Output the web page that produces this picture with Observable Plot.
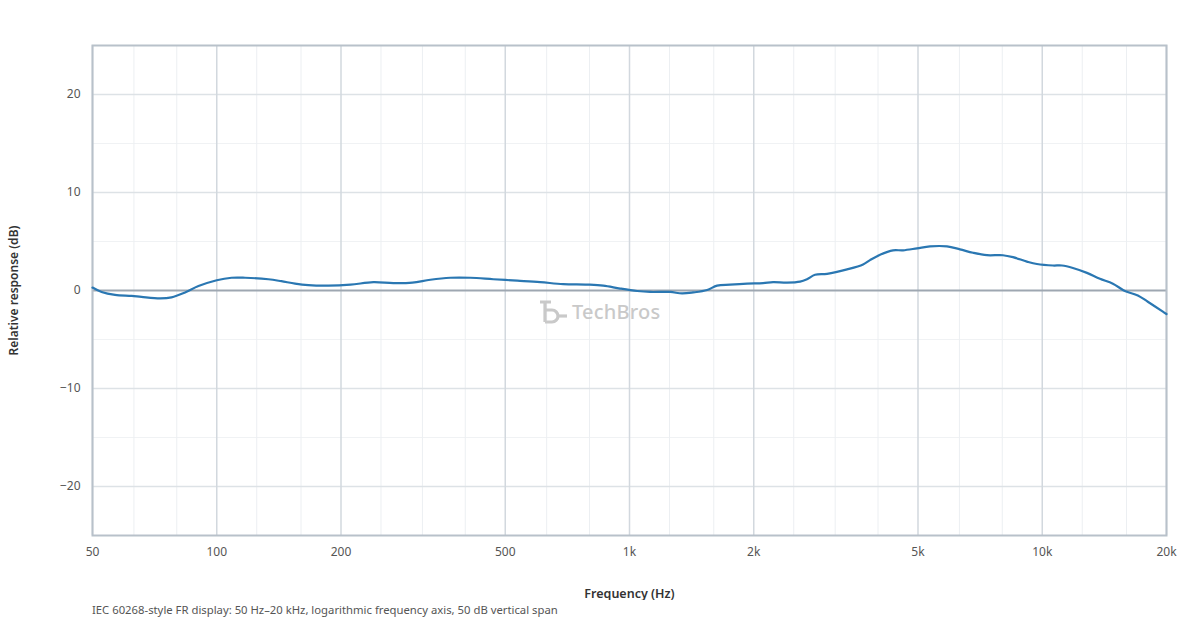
<!DOCTYPE html>
<html>
<head>
<meta charset="utf-8">
<script src="https://cdn.jsdelivr.net/npm/d3@7"></script>
<script src="https://cdn.jsdelivr.net/npm/@observablehq/plot@0.6"></script>
<style>
  html, body { margin: 0; padding: 0; background: #fff; }
  body { width: 1200px; height: 620px; position: relative; font-family: "Noto Sans", "Open Sans", sans-serif; }
  #chart { position: absolute; left: 0; top: 0; }
  #caption { position: absolute; left: 92px; top: 602px; font-size: 11.3px; color: #555; white-space: nowrap; }
  #wm { position: absolute; left: 539px; top: 298px; display: flex; align-items: center; gap: 3px; color: #c9c9c9; font-size: 20px; font-weight: 500; font-family: "Noto Sans", sans-serif; letter-spacing: 0.2px; }
</style>
</head>
<body>
<div id="chart"></div>
<div id="wm">
  <svg width="30" height="26" viewBox="0 0 30 26">
    <path d="M1 3 H12 M6 3 V23 M6 11 H13 A6 6 0 0 1 13 23 H6" fill="none" stroke="#c9c9c9" stroke-width="3.2"/>
    <path d="M19 17 H28" stroke="#c9c9c9" stroke-width="3.2"/>
  </svg>
  <span>TechBros</span>
</div>
<div id="caption">IEC 60268-style FR display: 50 Hz–20 kHz, logarithmic frequency axis, 50 dB vertical span</div>
<script>
// Measured response
const freqHz = [50, 52.6, 56.7, 62.2, 65.7, 72.9, 77.7, 83.8, 90.3, 100, 108.6, 117.1, 133.4, 143.4, 154.8, 166.7, 186.4,
  210.8, 239.6, 267.8, 297.7, 329.2, 368, 411.5, 467.7, 534.7, 607.8, 690.7, 789.7, 863.7, 949.3, 1043.5, 1122, 1254,
  1341, 1426, 1542, 1630, 1752, 1927, 2107, 2228, 2408, 2590, 2692, 2815, 3011, 3366, 3680, 3826, 4046, 4350, 4599,
  4972, 5346, 5877, 6319, 6796, 7346, 8030, 8493, 9180, 9707, 10615, 11160, 11866, 12830, 13795, 14830, 15855, 17046,
  18020, 19600, 20000];
const responseDb = [0.3, -0.15, -0.45, -0.55, -0.65, -0.8, -0.7, -0.2, 0.45, 1.05, 1.3, 1.3, 1.15, 0.95, 0.7, 0.55, 0.5,
  0.6, 0.85, 0.75, 0.8, 1.1, 1.3, 1.3, 1.15, 1.0, 0.85, 0.65, 0.6, 0.5, 0.2, -0.05, -0.15, -0.15,
  -0.3, -0.2, 0.05, 0.5, 0.6, 0.7, 0.75, 0.85, 0.8, 0.9, 1.15, 1.6, 1.7, 2.15, 2.65, 3.1, 3.65, 4.1, 4.1,
  4.3, 4.5, 4.5, 4.2, 3.85, 3.6, 3.6, 3.4, 2.95, 2.7, 2.55, 2.55, 2.3, 1.8, 1.2, 0.7, -0.05, -0.5,
  -1.15, -2.15, -2.4];

// Axes
const xTickValues = [50, 100, 200, 500, 1000, 2000, 5000, 10000, 20000];
const xTickLabels = ["50", "100", "200", "500", "1k", "2k", "5k", "10k", "20k"];
const thirdOctave = [50, 63, 80, 100, 125, 160, 200, 250, 315, 400, 500, 630, 800, 1000, 1250, 1600, 2000, 2500,
  3150, 4000, 5000, 6300, 8000, 10000, 12500, 16000, 20000];
const yMajor = [-20, -10, 10, 20];
const yMinor = [-15, -5, 5, 15];
const yTickValues = [-20, -10, 0, 10, 20];
const xDomain = [50, 20000];
const yDomain = [-25, 25];

const data = freqHz.map((f, i) => ({f, db: responseDb[i]}));
const xTicks = xTickValues.map((v, i) => ({v, label: xTickLabels[i]}));
const majorSet = new Set(xTickValues);

const chart = Plot.plot({
  width: 1200,
  height: 600,
  marginTop: 45,
  marginBottom: 65,
  marginLeft: 92,
  marginRight: 34,
  style: {fontFamily: "Noto Sans, sans-serif", fontSize: "12px", color: "#555", background: "#fff"},
  x: {type: "log", domain: xDomain, axis: null},
  y: {domain: yDomain},
  marks: [
    Plot.ruleY(yMinor, {stroke: "#f0f2f4", strokeWidth: 1}),
    Plot.ruleX(thirdOctave.filter(d => !majorSet.has(d)), {stroke: "#eceff2", strokeWidth: 1}),
    Plot.ruleY(yMajor, {stroke: "#dde2e6", strokeWidth: 1.5}),
    Plot.ruleX(xTickValues, {stroke: "#d2d8de", strokeWidth: 1.5}),
    Plot.ruleY([0], {stroke: "#9ea7b1", strokeWidth: 2}),
    Plot.frame({stroke: "#b8c1ca", strokeWidth: 2}),
    Plot.text(xTicks, {x: "v", text: "label", frameAnchor: "bottom", lineAnchor: "middle", dy: 17, fontSize: 12, fill: "#555"}),
    Plot.axisY({ticks: yTickValues, tickSize: 0, tickPadding: 12, label: null, fontSize: 12}),
    Plot.text(["Frequency (Hz)"], {frameAnchor: "bottom", lineAnchor: "middle", textAnchor: "middle", dy: 58, text: d => d, fontSize: 12.5, fontWeight: 600, fill: "#333"}),
    Plot.text(["Relative response (dB)"], {frameAnchor: "left", textAnchor: "middle", lineAnchor: "middle", dx: -78, rotate: -90, text: d => d, fontSize: 12, fontWeight: 600, fill: "#333"}),
    Plot.line(data, {x: "f", y: "db", stroke: "#2a77b2", strokeWidth: 2.2, curve: "catmull-rom"})
  ]
});
document.getElementById("chart").appendChild(chart);
</script>
</body>
</html>
